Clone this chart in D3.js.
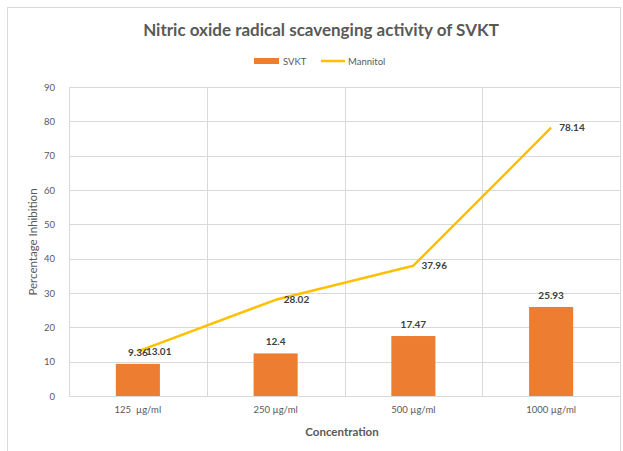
<!DOCTYPE html>
<html><head><meta charset="utf-8">
<script src="https://cdn.jsdelivr.net/npm/d3@7"></script>
<style>
html,body{margin:0;padding:0;background:#fff;}
svg{display:block;}
text{font-family:Lato,"Open Sans",sans-serif;}
</style></head>
<body>
<svg id="chart" width="623" height="451"></svg>
<script>
const categories = ["125  µg/ml","250 µg/ml","500 µg/ml","1000 µg/ml"];
const svktValues = [9.36, 12.4, 17.47, 25.93];
const mannitolValues = [13.01, 28.02, 37.96, 78.14];
const yTicks = [0,10,20,30,40,50,60,70,80,90];
const seriesNames = ["SVKT","Mannitol"];

const svg = d3.select("#chart");
const W = 623, H = 451;
const m = {left:69, right:3, top:87, bottom:55};
const pw = W - m.left - m.right, ph = H - m.top - m.bottom;

svg.append("rect").attr("x",7.5).attr("y",7.5).attr("width",613).attr("height",460)
  .attr("fill","#fff").attr("stroke","#d9d9d9").attr("stroke-width",1);

const x = d3.scaleBand().domain(categories).range([m.left, m.left+pw]).padding(0);
const y = d3.scaleLinear().domain([0,90]).range([m.top+ph, m.top]);

const g = svg.append("g");
g.selectAll("line.h").data(yTicks).join("line")
  .attr("x1",m.left).attr("x2",m.left+pw)
  .attr("y1",d=>Math.round(y(d))+0.5).attr("y2",d=>Math.round(y(d))+0.5)
  .attr("stroke","#d9d9d9").attr("stroke-width",1);
const vx = categories.map(c=>x(c)).concat([x(categories[categories.length-1])+x.bandwidth()]);
g.selectAll("line.v").data(vx).join("line")
  .attr("x1",d=>Math.round(d)+0.5).attr("x2",d=>Math.round(d)+0.5)
  .attr("y1",m.top).attr("y2",m.top+ph)
  .attr("stroke","#d9d9d9").attr("stroke-width",1);

const yAxis = d3.axisLeft(y).tickValues(yTicks).tickSize(0).tickPadding(0);
const ya = svg.append("g").attr("transform",`translate(${m.left-14},0)`).call(yAxis);
ya.select(".domain").remove();
ya.selectAll("text").attr("font-size",9.5).attr("fill","#595959").attr("font-family","Lato");

const xAxis = d3.axisBottom(x).tickSize(0).tickPadding(0);
const xa = svg.append("g").attr("transform",`translate(0,${m.top+ph+10})`).call(xAxis);
xa.select(".domain").remove();
xa.selectAll("text").attr("font-size",9.5).attr("fill","#595959").attr("font-family","Lato")
  .style("white-space","pre").attr("xml:space","preserve");

const bw = x.bandwidth()*0.32;
svg.selectAll("rect.bar").data(svktValues).join("rect").attr("class","bar")
  .attr("x",(d,i)=>x(categories[i])+x.bandwidth()/2-bw/2)
  .attr("width",bw)
  .attr("y",d=>y(d)).attr("height",d=>y(0)-y(d))
  .attr("fill","#ED7D31");

const line = d3.line().x((d,i)=>x(categories[i])+x.bandwidth()/2).y(d=>y(d));
svg.append("path").datum(mannitolValues).attr("d",line)
  .attr("fill","none").attr("stroke","#FFC000").attr("stroke-width",2.5)
  .attr("stroke-linejoin","round");

svg.selectAll("text.bl").data(svktValues).join("text")
  .attr("x",(d,i)=>x(categories[i])+x.bandwidth()/2)
  .attr("y",d=>y(d)-8)
  .attr("text-anchor","middle").attr("font-size",10).attr("font-weight","bold")
  .attr("fill","#404040").text(d=>d);

svg.selectAll("text.ll").data(mannitolValues).join("text")
  .attr("x",(d,i)=>x(categories[i])+x.bandwidth()/2+8)
  .attr("y",d=>y(d)+3.5)
  .attr("text-anchor","start").attr("font-size",10).attr("font-weight","bold")
  .attr("fill","#404040").text(d=>d.toFixed(2));

svg.append("text").attr("x",321).attr("y",36).attr("text-anchor","middle")
  .attr("font-size",17).attr("font-weight","bold").attr("fill","#595959")
  .text("Nitric oxide radical scavenging activity of SVKT");

const lg = svg.append("g");
lg.append("rect").attr("x",254).attr("y",58).attr("width",25).attr("height",6).attr("fill","#ED7D31");
lg.append("text").attr("x",283).attr("y",64.5).attr("font-size",9.5).attr("fill","#595959").text(seriesNames[0]);
lg.append("line").attr("x1",321).attr("x2",345).attr("y1",61).attr("y2",61)
  .attr("stroke","#FFC000").attr("stroke-width",2.5);
lg.append("text").attr("x",348).attr("y",64.5).attr("font-size",9.5).attr("fill","#595959").text(seriesNames[1]);

svg.append("text").attr("x",342).attr("y",436).attr("text-anchor","middle")
  .attr("font-size",11.5).attr("font-weight","bold").attr("fill","#595959").text("Concentration");
svg.append("text").attr("transform","translate(37,242) rotate(-90)").attr("text-anchor","middle")
  .attr("font-size",11.5).attr("fill","#595959").text("Percentage Inhibition");
</script>
</body></html>
